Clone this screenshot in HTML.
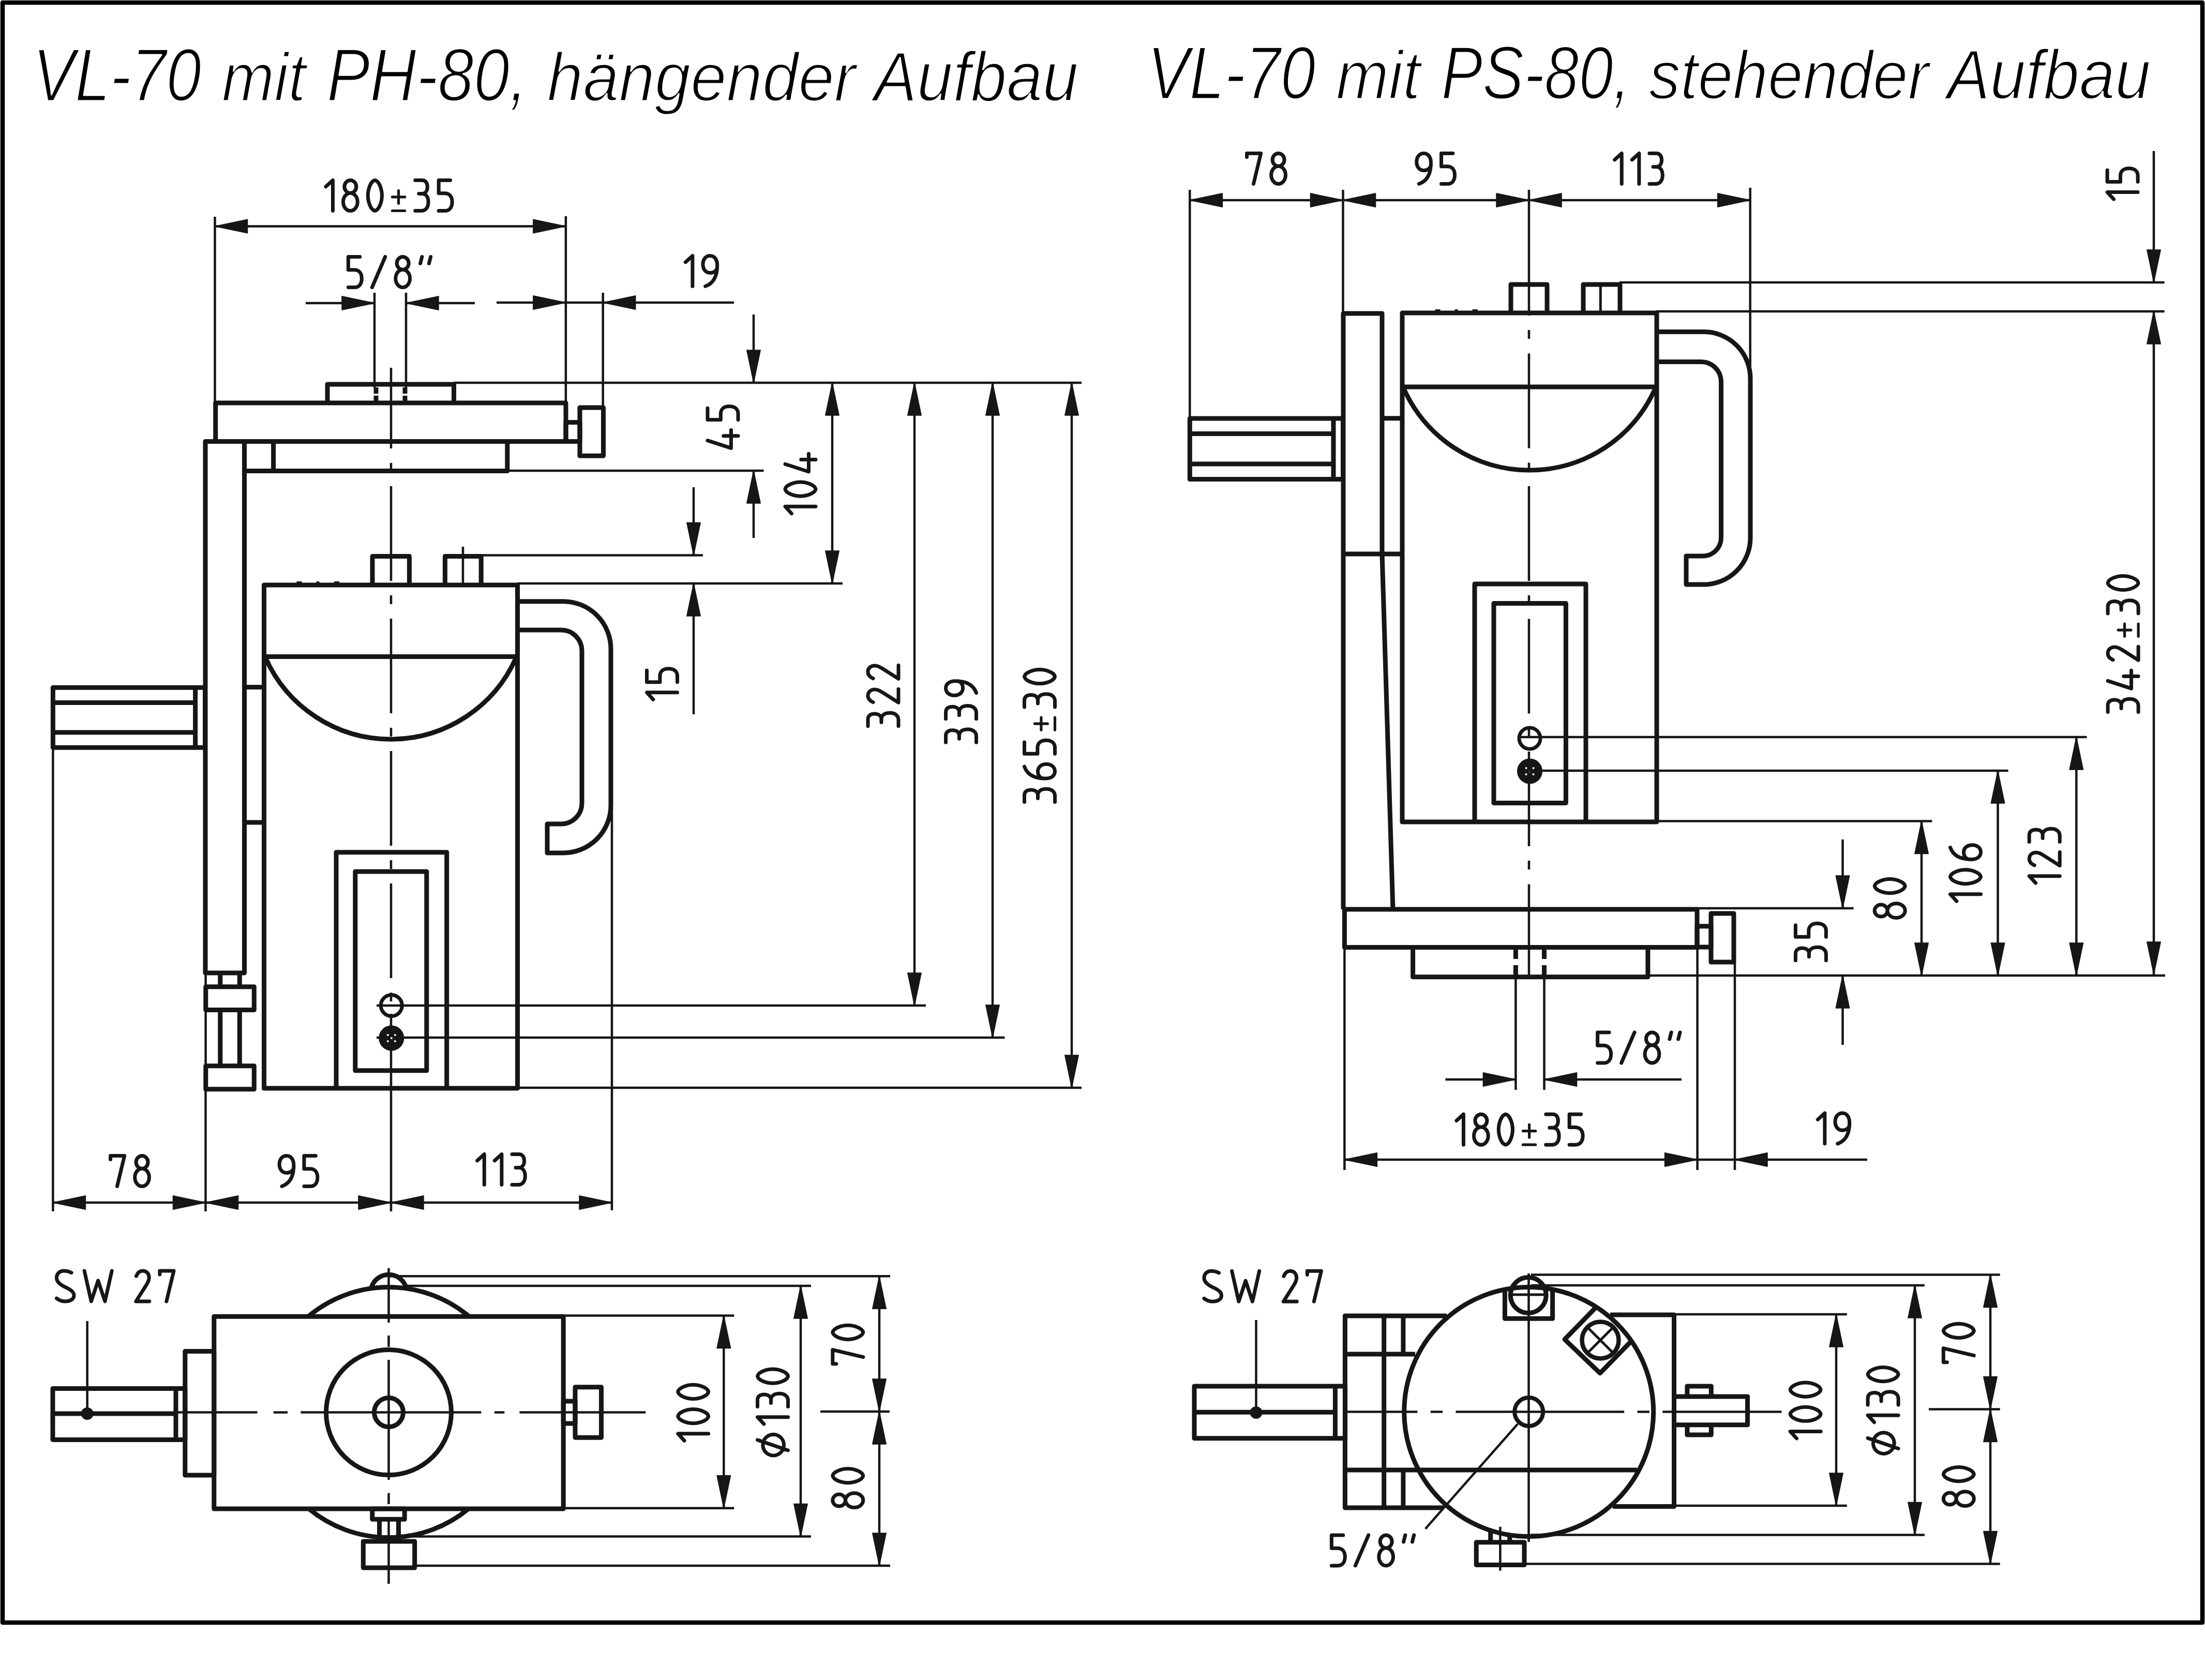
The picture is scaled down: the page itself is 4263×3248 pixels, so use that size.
<!DOCTYPE html>
<html><head><meta charset="utf-8"><title>VL-70</title>
<style>html,body{margin:0;padding:0;background:#fff;}svg{display:block;}</style></head>
<body><svg width="4263" height="3248" viewBox="0 0 4263 3248">
<rect x="0" y="0" width="4263" height="3248" fill="#fff"/>
<g fill="none" stroke="#161616" stroke-linecap="butt" stroke-linejoin="round">
<text transform="matrix(0.84784,0,0,1,63.56,195.30)" font-family="Liberation Sans" font-style="italic" font-size="143.9" fill="#000" stroke="#fff" stroke-width="3">VL-70</text>
<text transform="matrix(0.92351,0,0,1,428.68,195.30)" font-family="Liberation Sans" font-style="italic" font-size="132" fill="#000" stroke="#fff" stroke-width="3">mit</text>
<text transform="matrix(0.86570,0,0,1,631.97,195.30)" font-family="Liberation Sans" font-style="italic" font-size="143.9" fill="#000" stroke="#fff" stroke-width="3">PH-80,</text>
<text transform="matrix(0.94537,0,0,1,1057.63,195.30)" font-family="Liberation Sans" font-style="italic" font-size="132" fill="#000" stroke="#fff" stroke-width="3">hängender</text>
<text transform="matrix(0.92421,0,0,1,1689.55,195.30)" font-family="Liberation Sans" font-style="italic" font-size="135" fill="#000" stroke="#fff" stroke-width="3">Aufbau</text>
<text transform="matrix(0.84676,0,0,1,2218.17,191.10)" font-family="Liberation Sans" font-style="italic" font-size="143.9" fill="#000" stroke="#fff" stroke-width="3">VL-70</text>
<text transform="matrix(0.92687,0,0,1,2582.97,191.10)" font-family="Liberation Sans" font-style="italic" font-size="132" fill="#000" stroke="#fff" stroke-width="3">mit</text>
<text transform="matrix(0.83125,0,0,1,2786.42,191.10)" font-family="Liberation Sans" font-style="italic" font-size="143.9" fill="#000" stroke="#fff" stroke-width="3">PS-80,</text>
<text transform="matrix(0.92181,0,0,1,3188.00,191.10)" font-family="Liberation Sans" font-style="italic" font-size="132" fill="#000" stroke="#fff" stroke-width="3">stehender</text>
<text transform="matrix(0.92097,0,0,1,3764.23,191.10)" font-family="Liberation Sans" font-style="italic" font-size="135" fill="#000" stroke="#fff" stroke-width="3">Aufbau</text>
<rect x="5" y="5" width="4253" height="3132" stroke-width="8.5" stroke="#000"/>
<line x1="756" y1="711" x2="756" y2="1960" stroke-width="4.5" stroke-dasharray="183 28 17 28" stroke-dashoffset="27"/>
<line x1="756" y1="1960" x2="756" y2="2342" stroke-width="4.5"/>
<line x1="415.5" y1="419" x2="415.5" y2="779" stroke-width="4.5"/>
<line x1="1093.9" y1="418" x2="1093.9" y2="779" stroke-width="4.5"/>
<line x1="415.5" y1="437.5" x2="1093.9" y2="437.5" stroke-width="4.5"/>
<path d="M415.5,437.5 L478.5,424.3 L478.5,450.7Z" fill="#161616" stroke-width="1.5"/>
<path d="M1093.9,437.5 L1030.9,424.3 L1030.9,450.7Z" fill="#161616" stroke-width="1.5"/>
<g transform="translate(752,378) scale(5.9000) translate(-20.700,-5)" stroke-width="1.186" stroke-linecap="round" stroke-linejoin="round"><path transform="translate(0,0)" d="M0,2.1 L2.3,0 L2.3,10"/><path transform="translate(5.7,0)" d="M2.35,0 A1.95,2.1 0 1 1 2.35,4.2 A1.95,2.1 0 1 1 2.35,0 Z M2.35,4.2 A2.35,2.9 0 1 1 2.35,10 A2.35,2.9 0 1 1 2.35,4.2 Z"/><path transform="translate(13.8,0)" d="M2.3,0 C3.7,0.25 4.6,3.0 4.6,5 C4.6,7.0 3.7,9.75 2.3,10 C0.9,9.75 0,7.0 0,5 C0,3.0 0.9,0.25 2.3,0 Z"/><path transform="translate(21.8,0)" d="M2.05,3.4 L2.05,7.6 M0,5.5 L4.1,5.5 M0,10 L4.1,10" stroke-width="0.881"/><path transform="translate(29.3,0)" d="M0,0 L2.2,0 C3.5,0 4.0,1.0 4.0,2.2 C4.0,3.5 3.3,4.4 2.2,4.4 L1.2,4.4 M2.2,4.4 C3.6,4.4 4.3,5.6 4.3,7.2 C4.3,8.9 3.4,10 2.0,10 L0,10"/><path transform="translate(37,0)" d="M3.8,0 L0,0 L0,4.3 L2.0,4.3 C3.5,4.3 4.4,5.4 4.4,7.1 C4.4,8.9 3.5,10 2.0,10 L0,10"/></g>
<line x1="724" y1="566" x2="724" y2="749" stroke-width="4.5"/>
<line x1="785" y1="566" x2="785" y2="749" stroke-width="4.5"/>
<line x1="591" y1="586" x2="724" y2="586" stroke-width="4.5"/>
<path d="M724,586 L661,572.8 L661,599.2Z" fill="#161616" stroke-width="1.5"/>
<line x1="785" y1="586" x2="918" y2="586" stroke-width="4.5"/>
<path d="M785,586 L848,572.8 L848,599.2Z" fill="#161616" stroke-width="1.5"/>
<g transform="translate(753,526) scale(5.9000) translate(-13.500,-5)" stroke-width="1.186" stroke-linecap="round" stroke-linejoin="round"><path transform="translate(0,0)" d="M3.8,0 L0,0 L0,4.3 L2.0,4.3 C3.5,4.3 4.4,5.4 4.4,7.1 C4.4,8.9 3.5,10 2.0,10 L0,10"/><path transform="translate(7.8,0)" d="M4.3,0 L0,10"/><path transform="translate(15.5,0)" d="M2.35,0 A1.95,2.1 0 1 1 2.35,4.2 A1.95,2.1 0 1 1 2.35,0 Z M2.35,4.2 A2.35,2.9 0 1 1 2.35,10 A2.35,2.9 0 1 1 2.35,4.2 Z"/><path transform="translate(23.6,0)" d="M0.55,0 L0,2.2 M3.4,0 L2.85,2.2"/></g>
<line x1="960" y1="585" x2="1419" y2="585" stroke-width="4.5"/>
<path d="M1093.9,585 L1030.9,571.8 L1030.9,598.2Z" fill="#161616" stroke-width="1.5"/>
<path d="M1165.7,585 L1228.7,571.8 L1228.7,598.2Z" fill="#161616" stroke-width="1.5"/>
<line x1="1165.7" y1="566" x2="1165.7" y2="788" stroke-width="4.5"/>
<g transform="translate(1356,524) scale(5.9000) translate(-5.200,-5)" stroke-width="1.186" stroke-linecap="round" stroke-linejoin="round"><path transform="translate(0,0)" d="M0,2.1 L2.3,0 L2.3,10"/><path transform="translate(5.7,0)" d="M0.8,10 C3.1,9.2 4.7,7.2 4.7,3.1 C4.7,1.1 3.7,0 2.35,0 C1.0,0 0,1.1 0,2.8 C0,4.5 1.0,5.6 2.35,5.6 C3.5,5.6 4.4,5.0 4.7,4.0"/></g>
<path d="M633,779 L633,743 L877.5,743 L877.5,779" stroke-width="9"/>
<line x1="727" y1="749" x2="727" y2="761" stroke-width="9"/>
<line x1="727" y1="765" x2="727" y2="776" stroke-width="9"/>
<line x1="783" y1="749" x2="783" y2="761" stroke-width="9"/>
<line x1="783" y1="765" x2="783" y2="776" stroke-width="9"/>
<path d="M416.7,779 L1094,779 L1094,853.5 L416.7,853.5Z" stroke-width="9"/>
<path d="M397,853.5 L472.5,853.5 L472.5,1881 L397,1881Z" stroke-width="9"/>
<line x1="472.5" y1="853.5" x2="1094" y2="853.5" stroke-width="9"/>
<path d="M472.5,853.5 L980.8,853.5 L980.8,910.5 L472.5,910.5Z" stroke-width="9"/>
<line x1="528.6" y1="853.5" x2="528.6" y2="910.5" stroke-width="9"/>
<path d="M1094,816.4 L1121,816.4 L1121,853.5 L1094,853.5Z" stroke-width="9"/>
<path d="M1121,788 L1166.5,788 L1166.5,881.3 L1121,881.3Z" stroke-width="9"/>
<line x1="877.5" y1="740" x2="2091" y2="740" stroke-width="4.5"/>
<line x1="980.8" y1="910" x2="1476.6" y2="910" stroke-width="4.5"/>
<line x1="1000.5" y1="1128" x2="1629" y2="1128" stroke-width="4.5"/>
<line x1="930.2" y1="1073.5" x2="1359" y2="1073.5" stroke-width="4.5"/>
<line x1="728" y1="1944" x2="1790" y2="1944" stroke-width="4.5"/>
<line x1="728" y1="2006" x2="1942.5" y2="2006" stroke-width="4.5"/>
<line x1="1000.5" y1="2103" x2="2091" y2="2103" stroke-width="4.5"/>
<line x1="1457" y1="608" x2="1457" y2="740" stroke-width="4.5"/>
<path d="M1457,740 L1443.8,677 L1470.2,677Z" fill="#161616" stroke-width="1.5"/>
<line x1="1457" y1="910" x2="1457" y2="1040" stroke-width="4.5"/>
<path d="M1457,910 L1443.8,973 L1470.2,973Z" fill="#161616" stroke-width="1.5"/>
<g transform="translate(1397.5,826) rotate(-90) scale(5.9000) translate(-6.850,-5)" stroke-width="1.186" stroke-linecap="round" stroke-linejoin="round"><path transform="translate(0,0)" d="M2.5,0 L0,7.7 L5.9,7.7 M4.0,5.2 L4.0,10"/><path transform="translate(9.3,0)" d="M3.8,0 L0,0 L0,4.3 L2.0,4.3 C3.5,4.3 4.4,5.4 4.4,7.1 C4.4,8.9 3.5,10 2.0,10 L0,10"/></g>
<line x1="1609" y1="740" x2="1609" y2="1128" stroke-width="4.5"/>
<path d="M1609,740 L1595.8,803 L1622.2,803Z" fill="#161616" stroke-width="1.5"/>
<path d="M1609,1128 L1595.8,1065 L1622.2,1065Z" fill="#161616" stroke-width="1.5"/>
<g transform="translate(1547.5,935) rotate(-90) scale(5.9000) translate(-9.800,-5)" stroke-width="1.186" stroke-linecap="round" stroke-linejoin="round"><path transform="translate(0,0)" d="M0,2.1 L2.3,0 L2.3,10"/><path transform="translate(5.7,0)" d="M2.3,0 C3.7,0.25 4.6,3.0 4.6,5 C4.6,7.0 3.7,9.75 2.3,10 C0.9,9.75 0,7.0 0,5 C0,3.0 0.9,0.25 2.3,0 Z"/><path transform="translate(13.7,0)" d="M2.5,0 L0,7.7 L5.9,7.7 M4.0,5.2 L4.0,10"/></g>
<line x1="1341" y1="942" x2="1341" y2="1073.5" stroke-width="4.5"/>
<path d="M1341,1073.5 L1327.8,1010.5 L1354.2,1010.5Z" fill="#161616" stroke-width="1.5"/>
<line x1="1341" y1="1128" x2="1341" y2="1381" stroke-width="4.5"/>
<path d="M1341,1128 L1327.8,1191 L1354.2,1191Z" fill="#161616" stroke-width="1.5"/>
<g transform="translate(1280,1322.5) rotate(-90) scale(5.9000) translate(-5.050,-5)" stroke-width="1.186" stroke-linecap="round" stroke-linejoin="round"><path transform="translate(0,0)" d="M0,2.1 L2.3,0 L2.3,10"/><path transform="translate(5.7,0)" d="M3.8,0 L0,0 L0,4.3 L2.0,4.3 C3.5,4.3 4.4,5.4 4.4,7.1 C4.4,8.9 3.5,10 2.0,10 L0,10"/></g>
<line x1="1768" y1="740" x2="1768" y2="1944" stroke-width="4.5"/>
<path d="M1768,740 L1754.8,803 L1781.2,803Z" fill="#161616" stroke-width="1.5"/>
<path d="M1768,1944 L1754.8,1881 L1781.2,1881Z" fill="#161616" stroke-width="1.5"/>
<g transform="translate(1707.5,1345) rotate(-90) scale(5.9000) translate(-9.950,-5)" stroke-width="1.186" stroke-linecap="round" stroke-linejoin="round"><path transform="translate(0,0)" d="M0,0 L2.2,0 C3.5,0 4.0,1.0 4.0,2.2 C4.0,3.5 3.3,4.4 2.2,4.4 L1.2,4.4 M2.2,4.4 C3.6,4.4 4.3,5.6 4.3,7.2 C4.3,8.9 3.4,10 2.0,10 L0,10"/><path transform="translate(7.7,0)" d="M0.1,1.7 C0.6,0.5 1.3,0 2.2,0 C3.5,0 4.3,0.9 4.3,2.3 C4.3,3.2 3.9,3.9 3.3,4.8 L0,10 L4.4,10"/><path transform="translate(15.5,0)" d="M0.1,1.7 C0.6,0.5 1.3,0 2.2,0 C3.5,0 4.3,0.9 4.3,2.3 C4.3,3.2 3.9,3.9 3.3,4.8 L0,10 L4.4,10"/></g>
<line x1="1919" y1="740" x2="1919" y2="2006" stroke-width="4.5"/>
<path d="M1919,740 L1905.8,803 L1932.2,803Z" fill="#161616" stroke-width="1.5"/>
<path d="M1919,2006 L1905.8,1943 L1932.2,1943Z" fill="#161616" stroke-width="1.5"/>
<g transform="translate(1858,1376) rotate(-90) scale(5.9000) translate(-10.050,-5)" stroke-width="1.186" stroke-linecap="round" stroke-linejoin="round"><path transform="translate(0,0)" d="M0,0 L2.2,0 C3.5,0 4.0,1.0 4.0,2.2 C4.0,3.5 3.3,4.4 2.2,4.4 L1.2,4.4 M2.2,4.4 C3.6,4.4 4.3,5.6 4.3,7.2 C4.3,8.9 3.4,10 2.0,10 L0,10"/><path transform="translate(7.7,0)" d="M0,0 L2.2,0 C3.5,0 4.0,1.0 4.0,2.2 C4.0,3.5 3.3,4.4 2.2,4.4 L1.2,4.4 M2.2,4.4 C3.6,4.4 4.3,5.6 4.3,7.2 C4.3,8.9 3.4,10 2.0,10 L0,10"/><path transform="translate(15.4,0)" d="M0.8,10 C3.1,9.2 4.7,7.2 4.7,3.1 C4.7,1.1 3.7,0 2.35,0 C1.0,0 0,1.1 0,2.8 C0,4.5 1.0,5.6 2.35,5.6 C3.5,5.6 4.4,5.0 4.7,4.0"/></g>
<line x1="2072" y1="740" x2="2072" y2="2103" stroke-width="4.5"/>
<path d="M2072,740 L2058.8,803 L2085.2,803Z" fill="#161616" stroke-width="1.5"/>
<path d="M2072,2103 L2058.8,2040 L2085.2,2040Z" fill="#161616" stroke-width="1.5"/>
<g transform="translate(2010,1422.5) rotate(-90) scale(5.9000) translate(-21.700,-5)" stroke-width="1.186" stroke-linecap="round" stroke-linejoin="round"><path transform="translate(0,0)" d="M0,0 L2.2,0 C3.5,0 4.0,1.0 4.0,2.2 C4.0,3.5 3.3,4.4 2.2,4.4 L1.2,4.4 M2.2,4.4 C3.6,4.4 4.3,5.6 4.3,7.2 C4.3,8.9 3.4,10 2.0,10 L0,10"/><path transform="translate(7.7,0)" d="M3.9,0 C1.6,0.8 0,2.8 0,6.9 C0,8.9 1.0,10 2.35,10 C3.7,10 4.7,8.9 4.7,7.2 C4.7,5.5 3.7,4.4 2.35,4.4 C1.2,4.4 0.3,5.0 0,6.0"/><path transform="translate(15.8,0)" d="M3.8,0 L0,0 L0,4.3 L2.0,4.3 C3.5,4.3 4.4,5.4 4.4,7.1 C4.4,8.9 3.5,10 2.0,10 L0,10"/><path transform="translate(23.6,0)" d="M2.05,3.4 L2.05,7.6 M0,5.5 L4.1,5.5 M0,10 L4.1,10" stroke-width="0.881"/><path transform="translate(31.1,0)" d="M0,0 L2.2,0 C3.5,0 4.0,1.0 4.0,2.2 C4.0,3.5 3.3,4.4 2.2,4.4 L1.2,4.4 M2.2,4.4 C3.6,4.4 4.3,5.6 4.3,7.2 C4.3,8.9 3.4,10 2.0,10 L0,10"/><path transform="translate(38.8,0)" d="M2.3,0 C3.7,0.25 4.6,3.0 4.6,5 C4.6,7.0 3.7,9.75 2.3,10 C0.9,9.75 0,7.0 0,5 C0,3.0 0.9,0.25 2.3,0 Z"/></g>
<path d="M510.5,1131 L1000.5,1131 L1000.5,2104 L510.5,2104Z" stroke-width="9"/>
<line x1="510.5" y1="1269.5" x2="1000.5" y2="1269.5" stroke-width="9"/>
<path d="M513,1271 A265,265 0 0 0 998,1271" stroke-width="9"/>
<path d="M720,1131 L720,1075.5 L791.4,1075.5 L791.4,1131" stroke-width="9"/>
<path d="M860.4,1131 L860.4,1075.5 L930.2,1075.5 L930.2,1131" stroke-width="9"/>
<line x1="895" y1="1057" x2="895" y2="1131" stroke-width="4.5"/>
<rect x="573.5" y="1124" width="10" height="7" fill="#161616" stroke="none"/>
<rect x="611.5" y="1124" width="6" height="7" fill="#161616" stroke="none"/>
<rect x="646" y="1124" width="10" height="7" fill="#161616" stroke="none"/>
<path d="M1000.5,1162.7 L1089,1162.7 A92,92 0 0 1 1181,1254.7 L1181,1557 A92,92 0 0 1 1089,1649 L1058,1649 L1058,1593 L1085,1593 A40,40 0 0 0 1125,1553 L1125,1258 A40,40 0 0 0 1085,1218 L1000.5,1218" stroke-width="9"/>
<path d="M650,2104 L650,1647.7 L863.7,1647.7 L863.7,2104" stroke-width="9"/>
<path d="M686.8,1685 L824.8,1685 L824.8,2069.7 L686.8,2069.7Z" stroke-width="9"/>
<circle cx="756.8" cy="1944" r="20.5" stroke-width="7"/>
<circle cx="756.8" cy="2007" r="21" stroke-width="7" fill="#161616"/>
<circle cx="749.8" cy="2001" r="2" fill="#fff" stroke="none"/>
<circle cx="763.8" cy="2001" r="2" fill="#fff" stroke="none"/>
<circle cx="749.8" cy="2013" r="2" fill="#fff" stroke="none"/>
<circle cx="763.8" cy="2013" r="2" fill="#fff" stroke="none"/>
<circle cx="756.8" cy="2007" r="2" fill="#fff" stroke="none"/>
<path d="M102.4,1329.3 L396.5,1329.3 L396.5,1445.3 L102.4,1445.3Z" stroke-width="9"/>
<line x1="102.4" y1="1358.6" x2="377.6" y2="1358.6" stroke-width="9"/>
<line x1="102.4" y1="1416" x2="377.6" y2="1416" stroke-width="9"/>
<line x1="377.6" y1="1329.3" x2="377.6" y2="1445.3" stroke-width="9"/>
<line x1="472.5" y1="1328.6" x2="510.5" y2="1328.6" stroke-width="9"/>
<line x1="472.5" y1="1590" x2="510.5" y2="1590" stroke-width="9"/>
<line x1="425.8" y1="1881" x2="425.8" y2="1908" stroke-width="9"/>
<line x1="463.3" y1="1881" x2="463.3" y2="1908" stroke-width="9"/>
<path d="M397.8,1907.8 L491.3,1907.8 L491.3,1952.5 L397.8,1952.5Z" stroke-width="9"/>
<line x1="425.8" y1="1952.5" x2="425.8" y2="2061" stroke-width="9"/>
<line x1="463.3" y1="1952.5" x2="463.3" y2="2061" stroke-width="9"/>
<line x1="397.6" y1="1881" x2="397.6" y2="2061" stroke-width="4.5"/>
<path d="M397.8,2060.8 L491.3,2060.8 L491.3,2105.8 L397.8,2105.8Z" stroke-width="9"/>
<line x1="102.4" y1="1445" x2="102.4" y2="2342" stroke-width="4.5"/>
<line x1="397.5" y1="2106" x2="397.5" y2="2342" stroke-width="4.5"/>
<line x1="1183" y1="1560" x2="1183" y2="2340" stroke-width="4.5"/>
<line x1="102.4" y1="2325" x2="1183" y2="2325" stroke-width="4.5"/>
<path d="M102.4,2325 L165.4,2311.8 L165.4,2338.2Z" fill="#161616" stroke-width="1.5"/>
<path d="M397.5,2325 L334.5,2311.8 L334.5,2338.2Z" fill="#161616" stroke-width="1.5"/>
<path d="M397.5,2325 L460.5,2311.8 L460.5,2338.2Z" fill="#161616" stroke-width="1.5"/>
<path d="M756,2325 L693,2311.8 L693,2338.2Z" fill="#161616" stroke-width="1.5"/>
<path d="M756,2325 L819,2311.8 L819,2338.2Z" fill="#161616" stroke-width="1.5"/>
<path d="M1183,2325 L1120,2311.8 L1120,2338.2Z" fill="#161616" stroke-width="1.5"/>
<g transform="translate(251,2264) scale(5.9000) translate(-6.350,-5)" stroke-width="1.186" stroke-linecap="round" stroke-linejoin="round"><path transform="translate(0,0)" d="M0,1.2 L0,0 L4.6,0 L2.2,10"/><path transform="translate(8,0)" d="M2.35,0 A1.95,2.1 0 1 1 2.35,4.2 A1.95,2.1 0 1 1 2.35,0 Z M2.35,4.2 A2.35,2.9 0 1 1 2.35,10 A2.35,2.9 0 1 1 2.35,4.2 Z"/></g>
<g transform="translate(577,2264) scale(5.9000) translate(-6.250,-5)" stroke-width="1.186" stroke-linecap="round" stroke-linejoin="round"><path transform="translate(0,0)" d="M0.8,10 C3.1,9.2 4.7,7.2 4.7,3.1 C4.7,1.1 3.7,0 2.35,0 C1.0,0 0,1.1 0,2.8 C0,4.5 1.0,5.6 2.35,5.6 C3.5,5.6 4.4,5.0 4.7,4.0"/><path transform="translate(8.1,0)" d="M3.8,0 L0,0 L0,4.3 L2.0,4.3 C3.5,4.3 4.4,5.4 4.4,7.1 C4.4,8.9 3.5,10 2.0,10 L0,10"/></g>
<g transform="translate(969,2261) scale(5.9000) translate(-7.850,-5)" stroke-width="1.186" stroke-linecap="round" stroke-linejoin="round"><path transform="translate(0,0)" d="M0,2.1 L2.3,0 L2.3,10"/><path transform="translate(5.7,0)" d="M0,2.1 L2.3,0 L2.3,10"/><path transform="translate(11.4,0)" d="M0,0 L2.2,0 C3.5,0 4.0,1.0 4.0,2.2 C4.0,3.5 3.3,4.4 2.2,4.4 L1.2,4.4 M2.2,4.4 C3.6,4.4 4.3,5.6 4.3,7.2 C4.3,8.9 3.4,10 2.0,10 L0,10"/></g>
<g transform="translate(222.7,2486.5) scale(5.9000) translate(-19.200,-5)" stroke-width="1.186" stroke-linecap="round" stroke-linejoin="round"><path transform="translate(0,0)" d="M4.85,0.6 C4.0,0.15 3.2,0 2.3,0 C1.0,0 0,0.9 0,2.3 C0,3.5 0.9,4.3 2.2,5.0 L3.6,5.7 C5.0,6.4 5.7,7.1 5.7,8.0 C5.7,9.3 4.4,10 2.8,10 C1.6,10 0.8,9.6 0,9.0"/><path transform="translate(9.1,0)" d="M0,0 L2.25,10 L4.5,3.2 L6.75,10 L9.0,0"/><path transform="translate(26,0)" d="M0.1,1.7 C0.6,0.5 1.3,0 2.2,0 C3.5,0 4.3,0.9 4.3,2.3 C4.3,3.2 3.9,3.9 3.3,4.8 L0,10 L4.4,10"/><path transform="translate(33.8,0)" d="M0,1.2 L0,0 L4.6,0 L2.2,10"/></g>
<line x1="168.7" y1="2554" x2="168.7" y2="2733" stroke-width="4.5"/>
<circle cx="168.7" cy="2733" r="9" stroke-width="6" fill="#161616"/>
<path d="M102,2684.4 L357.8,2684.4 L357.8,2783.4 L102,2783.4Z" stroke-width="9"/>
<line x1="340" y1="2684.4" x2="340" y2="2783.4" stroke-width="9"/>
<line x1="102" y1="2733" x2="340" y2="2733" stroke-width="9"/>
<path d="M357.8,2612.5 L413.8,2612.5 L413.8,2852 L357.8,2852Z" stroke-width="9"/>
<path d="M413.8,2545.3 L1089.2,2545.3 L1089.2,2917 L413.8,2917Z" stroke-width="9"/>
<path d="M595.8,2545.3 A242,242 0 0 1 907.2,2545.3" stroke-width="9"/>
<path d="M597.2,2917 A242,242 0 0 0 905.8,2917" stroke-width="9"/>
<path d="M718,2489 A35,35 0 0 1 785,2489" stroke-width="9"/>
<circle cx="751.5" cy="2730.6" r="121" stroke-width="9"/>
<circle cx="751.5" cy="2730.6" r="28" stroke-width="9"/>
<line x1="751.5" y1="2451.7" x2="751.5" y2="2557" stroke-width="4.5"/>
<line x1="751.5" y1="2582" x2="751.5" y2="2604" stroke-width="4.5"/>
<line x1="751.5" y1="2629" x2="751.5" y2="2861" stroke-width="4.5"/>
<line x1="751.5" y1="2886.6" x2="751.5" y2="2908" stroke-width="4.5"/>
<line x1="751.5" y1="2933" x2="751.5" y2="3062" stroke-width="4.5"/>
<line x1="340" y1="2730.6" x2="497.5" y2="2730.6" stroke-width="4.5"/>
<line x1="528.7" y1="2730.6" x2="556" y2="2730.6" stroke-width="4.5"/>
<line x1="581.4" y1="2730.6" x2="930.4" y2="2730.6" stroke-width="4.5"/>
<line x1="955.8" y1="2730.6" x2="975.3" y2="2730.6" stroke-width="4.5"/>
<line x1="1004.5" y1="2730.6" x2="1248.3" y2="2730.6" stroke-width="4.5"/>
<path d="M1089.2,2709 L1112,2709 L1112,2752 L1089.2,2752Z" stroke-width="9"/>
<path d="M1112,2681.8 L1162.5,2681.8 L1162.5,2779.3 L1112,2779.3Z" stroke-width="9"/>
<path d="M719.8,2917 L782.2,2917 L782.2,2937.3 L719.8,2937.3Z" stroke-width="9"/>
<line x1="733.5" y1="2937.3" x2="733.5" y2="2980" stroke-width="9"/>
<line x1="770.5" y1="2937.3" x2="770.5" y2="2980" stroke-width="9"/>
<path d="M702.3,2980 L801.7,2980 L801.7,3031 L702.3,3031Z" stroke-width="9"/>
<line x1="751.5" y1="2467.3" x2="1721" y2="2467.3" stroke-width="4.5"/>
<line x1="786" y1="2486" x2="1568" y2="2486" stroke-width="4.5"/>
<line x1="1089.2" y1="2543.4" x2="1419.3" y2="2543.4" stroke-width="4.5"/>
<line x1="1089.2" y1="2915.8" x2="1419.3" y2="2915.8" stroke-width="4.5"/>
<line x1="774" y1="2970.4" x2="1568" y2="2970.4" stroke-width="4.5"/>
<line x1="801.7" y1="3027" x2="1721" y2="3027" stroke-width="4.5"/>
<line x1="1586" y1="2729" x2="1720" y2="2729" stroke-width="4.5"/>
<line x1="1399.3" y1="2543.4" x2="1399.3" y2="2915.8" stroke-width="4.5"/>
<path d="M1399.3,2543.4 L1386.1,2606.4 L1412.5,2606.4Z" fill="#161616" stroke-width="1.5"/>
<path d="M1399.3,2915.8 L1386.1,2852.8 L1412.5,2852.8Z" fill="#161616" stroke-width="1.5"/>
<g transform="translate(1340.2,2731.3) rotate(-90) scale(5.9000) translate(-9.150,-5)" stroke-width="1.186" stroke-linecap="round" stroke-linejoin="round"><path transform="translate(0,0)" d="M0,2.1 L2.3,0 L2.3,10"/><path transform="translate(5.7,0)" d="M2.3,0 C3.7,0.25 4.6,3.0 4.6,5 C4.6,7.0 3.7,9.75 2.3,10 C0.9,9.75 0,7.0 0,5 C0,3.0 0.9,0.25 2.3,0 Z"/><path transform="translate(13.7,0)" d="M2.3,0 C3.7,0.25 4.6,3.0 4.6,5 C4.6,7.0 3.7,9.75 2.3,10 C0.9,9.75 0,7.0 0,5 C0,3.0 0.9,0.25 2.3,0 Z"/></g>
<line x1="1548" y1="2486" x2="1548" y2="2970.4" stroke-width="4.5"/>
<path d="M1548,2486 L1534.8,2549 L1561.2,2549Z" fill="#161616" stroke-width="1.5"/>
<path d="M1548,2970.4 L1534.8,2907.4 L1561.2,2907.4Z" fill="#161616" stroke-width="1.5"/>
<g transform="translate(1494,2730.5) rotate(-90) scale(5.9000) translate(-14.150,-5)" stroke-width="1.186" stroke-linecap="round" stroke-linejoin="round"><path transform="translate(0,0)" d="M3.45,1.75 A3.45,3.45 0 1 1 3.44,1.75 Z M5.1,0 L1.7,10"/><path transform="translate(10.3,0)" d="M0,2.1 L2.3,0 L2.3,10"/><path transform="translate(16,0)" d="M0,0 L2.2,0 C3.5,0 4.0,1.0 4.0,2.2 C4.0,3.5 3.3,4.4 2.2,4.4 L1.2,4.4 M2.2,4.4 C3.6,4.4 4.3,5.6 4.3,7.2 C4.3,8.9 3.4,10 2.0,10 L0,10"/><path transform="translate(23.7,0)" d="M2.3,0 C3.7,0.25 4.6,3.0 4.6,5 C4.6,7.0 3.7,9.75 2.3,10 C0.9,9.75 0,7.0 0,5 C0,3.0 0.9,0.25 2.3,0 Z"/></g>
<line x1="1700" y1="2467.3" x2="1700" y2="3027" stroke-width="4.5"/>
<path d="M1700,2467.3 L1686.8,2530.3 L1713.2,2530.3Z" fill="#161616" stroke-width="1.5"/>
<path d="M1700,2729 L1686.8,2666 L1713.2,2666Z" fill="#161616" stroke-width="1.5"/>
<path d="M1700,2729 L1686.8,2792 L1713.2,2792Z" fill="#161616" stroke-width="1.5"/>
<path d="M1700,3027 L1686.8,2964 L1713.2,2964Z" fill="#161616" stroke-width="1.5"/>
<g transform="translate(1639.3,2599.5) rotate(-90) scale(5.9000) translate(-6.300,-5)" stroke-width="1.186" stroke-linecap="round" stroke-linejoin="round"><path transform="translate(0,0)" d="M0,1.2 L0,0 L4.6,0 L2.2,10"/><path transform="translate(8,0)" d="M2.3,0 C3.7,0.25 4.6,3.0 4.6,5 C4.6,7.0 3.7,9.75 2.3,10 C0.9,9.75 0,7.0 0,5 C0,3.0 0.9,0.25 2.3,0 Z"/></g>
<g transform="translate(1639.3,2877) rotate(-90) scale(5.9000) translate(-6.350,-5)" stroke-width="1.186" stroke-linecap="round" stroke-linejoin="round"><path transform="translate(0,0)" d="M2.35,0 A1.95,2.1 0 1 1 2.35,4.2 A1.95,2.1 0 1 1 2.35,0 Z M2.35,4.2 A2.35,2.9 0 1 1 2.35,10 A2.35,2.9 0 1 1 2.35,4.2 Z"/><path transform="translate(8.1,0)" d="M2.3,0 C3.7,0.25 4.6,3.0 4.6,5 C4.6,7.0 3.7,9.75 2.3,10 C0.9,9.75 0,7.0 0,5 C0,3.0 0.9,0.25 2.3,0 Z"/></g>
<line x1="2300.3" y1="367" x2="2300.3" y2="809" stroke-width="4.5"/>
<line x1="2596.5" y1="367" x2="2596.5" y2="606" stroke-width="4.5"/>
<line x1="2956" y1="367" x2="2956" y2="605" stroke-width="4.5"/>
<line x1="3383.7" y1="363" x2="3383.7" y2="723" stroke-width="4.5"/>
<line x1="2300.3" y1="387" x2="3383.7" y2="387" stroke-width="4.5"/>
<path d="M2300.3,387 L2363.3,373.8 L2363.3,400.2Z" fill="#161616" stroke-width="1.5"/>
<path d="M2596.5,387 L2533.5,373.8 L2533.5,400.2Z" fill="#161616" stroke-width="1.5"/>
<path d="M2596.5,387 L2659.5,373.8 L2659.5,400.2Z" fill="#161616" stroke-width="1.5"/>
<path d="M2956,387 L2893,373.8 L2893,400.2Z" fill="#161616" stroke-width="1.5"/>
<path d="M2956,387 L3019,373.8 L3019,400.2Z" fill="#161616" stroke-width="1.5"/>
<path d="M3383.7,387 L3320.7,373.8 L3320.7,400.2Z" fill="#161616" stroke-width="1.5"/>
<g transform="translate(2448,326) scale(5.9000) translate(-6.350,-5)" stroke-width="1.186" stroke-linecap="round" stroke-linejoin="round"><path transform="translate(0,0)" d="M0,1.2 L0,0 L4.6,0 L2.2,10"/><path transform="translate(8,0)" d="M2.35,0 A1.95,2.1 0 1 1 2.35,4.2 A1.95,2.1 0 1 1 2.35,0 Z M2.35,4.2 A2.35,2.9 0 1 1 2.35,10 A2.35,2.9 0 1 1 2.35,4.2 Z"/></g>
<g transform="translate(2775.6,326) scale(5.9000) translate(-6.250,-5)" stroke-width="1.186" stroke-linecap="round" stroke-linejoin="round"><path transform="translate(0,0)" d="M0.8,10 C3.1,9.2 4.7,7.2 4.7,3.1 C4.7,1.1 3.7,0 2.35,0 C1.0,0 0,1.1 0,2.8 C0,4.5 1.0,5.6 2.35,5.6 C3.5,5.6 4.4,5.0 4.7,4.0"/><path transform="translate(8.1,0)" d="M3.8,0 L0,0 L0,4.3 L2.0,4.3 C3.5,4.3 4.4,5.4 4.4,7.1 C4.4,8.9 3.5,10 2.0,10 L0,10"/></g>
<g transform="translate(3168,326) scale(5.9000) translate(-7.850,-5)" stroke-width="1.186" stroke-linecap="round" stroke-linejoin="round"><path transform="translate(0,0)" d="M0,2.1 L2.3,0 L2.3,10"/><path transform="translate(5.7,0)" d="M0,2.1 L2.3,0 L2.3,10"/><path transform="translate(11.4,0)" d="M0,0 L2.2,0 C3.5,0 4.0,1.0 4.0,2.2 C4.0,3.5 3.3,4.4 2.2,4.4 L1.2,4.4 M2.2,4.4 C3.6,4.4 4.3,5.6 4.3,7.2 C4.3,8.9 3.4,10 2.0,10 L0,10"/></g>
<line x1="3131" y1="546" x2="4184.6" y2="546" stroke-width="4.5"/>
<line x1="3202" y1="602" x2="4184.6" y2="602" stroke-width="4.5"/>
<line x1="4164" y1="292" x2="4164" y2="546" stroke-width="4.5"/>
<path d="M4164,546 L4150.8,483 L4177.2,483Z" fill="#161616" stroke-width="1.5"/>
<line x1="4164" y1="602" x2="4164" y2="1884" stroke-width="4.5"/>
<path d="M4164,602 L4150.8,665 L4177.2,665Z" fill="#161616" stroke-width="1.5"/>
<path d="M4164,1884 L4150.8,1821 L4177.2,1821Z" fill="#161616" stroke-width="1.5"/>
<g transform="translate(4103.6,355.3) rotate(-90) scale(5.9000) translate(-5.050,-5)" stroke-width="1.186" stroke-linecap="round" stroke-linejoin="round"><path transform="translate(0,0)" d="M0,2.1 L2.3,0 L2.3,10"/><path transform="translate(5.7,0)" d="M3.8,0 L0,0 L0,4.3 L2.0,4.3 C3.5,4.3 4.4,5.4 4.4,7.1 C4.4,8.9 3.5,10 2.0,10 L0,10"/></g>
<g transform="translate(4104.6,1245) rotate(-90) scale(5.9000) translate(-22.300,-5)" stroke-width="1.186" stroke-linecap="round" stroke-linejoin="round"><path transform="translate(0,0)" d="M0,0 L2.2,0 C3.5,0 4.0,1.0 4.0,2.2 C4.0,3.5 3.3,4.4 2.2,4.4 L1.2,4.4 M2.2,4.4 C3.6,4.4 4.3,5.6 4.3,7.2 C4.3,8.9 3.4,10 2.0,10 L0,10"/><path transform="translate(7.7,0)" d="M2.5,0 L0,7.7 L5.9,7.7 M4.0,5.2 L4.0,10"/><path transform="translate(17,0)" d="M0.1,1.7 C0.6,0.5 1.3,0 2.2,0 C3.5,0 4.3,0.9 4.3,2.3 C4.3,3.2 3.9,3.9 3.3,4.8 L0,10 L4.4,10"/><path transform="translate(24.8,0)" d="M2.05,3.4 L2.05,7.6 M0,5.5 L4.1,5.5 M0,10 L4.1,10" stroke-width="0.881"/><path transform="translate(32.3,0)" d="M0,0 L2.2,0 C3.5,0 4.0,1.0 4.0,2.2 C4.0,3.5 3.3,4.4 2.2,4.4 L1.2,4.4 M2.2,4.4 C3.6,4.4 4.3,5.6 4.3,7.2 C4.3,8.9 3.4,10 2.0,10 L0,10"/><path transform="translate(40,0)" d="M2.3,0 C3.7,0.25 4.6,3.0 4.6,5 C4.6,7.0 3.7,9.75 2.3,10 C0.9,9.75 0,7.0 0,5 C0,3.0 0.9,0.25 2.3,0 Z"/></g>
<path d="M2300.3,809 L2596.5,809 L2596.5,926.5 L2300.3,926.5Z" stroke-width="9"/>
<line x1="2300.3" y1="838.5" x2="2578" y2="838.5" stroke-width="9"/>
<line x1="2300.3" y1="897" x2="2578" y2="897" stroke-width="9"/>
<line x1="2578" y1="809" x2="2578" y2="926.5" stroke-width="9"/>
<path d="M2597,1758 L2597,606 L2672,606 L2672,1071 L2693,1758" stroke-width="9"/>
<line x1="2672" y1="808.7" x2="2711" y2="808.7" stroke-width="9"/>
<line x1="2597" y1="1071" x2="2711" y2="1071" stroke-width="9"/>
<path d="M2711,605 L3203,605 L3203,1589 L2711,1589Z" stroke-width="9"/>
<line x1="2711" y1="748" x2="3203" y2="748" stroke-width="9"/>
<path d="M2713,749 A266,266 0 0 0 3201,749" stroke-width="9"/>
<path d="M2921,605 L2921,550 L2991,550 L2991,605" stroke-width="9"/>
<path d="M3061,605 L3061,550 L3132,550 L3132,605" stroke-width="9"/>
<line x1="3094.3" y1="550" x2="3094.3" y2="605" stroke-width="5"/>
<rect x="2774.6" y="598" width="10" height="7" fill="#161616" stroke="none"/>
<rect x="2812.5" y="598" width="6" height="7" fill="#161616" stroke="none"/>
<rect x="2846.7" y="598" width="10" height="7" fill="#161616" stroke="none"/>
<line x1="2956" y1="605" x2="2956" y2="1901" stroke-width="4.5" stroke-dasharray="183 28 17 28.5" stroke-dashoffset="178"/>
<path d="M3203,641.5 L3294,641.5 A90,90 0 0 1 3384,731.5 L3384,1040 A90,90 0 0 1 3294,1130 L3260,1130 L3260,1075 L3292,1075 A35.5,35.5 0 0 0 3327.5,1039.5 L3327.5,738 A38.5,38.5 0 0 0 3289,699.5 L3203,699.5" stroke-width="9"/>
<path d="M2851,1589 L2851,1129 L3066,1129 L3066,1589" stroke-width="9"/>
<path d="M2888,1166.5 L3027.4,1166.5 L3027.4,1552.4 L2888,1552.4Z" stroke-width="9"/>
<circle cx="2957.5" cy="1427.5" r="20.5" stroke-width="7"/>
<circle cx="2957.5" cy="1491" r="21" stroke-width="7" fill="#161616"/>
<circle cx="2950.5" cy="1485" r="2" fill="#fff" stroke="none"/>
<circle cx="2964.5" cy="1485" r="2" fill="#fff" stroke="none"/>
<circle cx="2950.5" cy="1497" r="2" fill="#fff" stroke="none"/>
<circle cx="2964.5" cy="1497" r="2" fill="#fff" stroke="none"/>
<circle cx="2957.5" cy="1491" r="2" fill="#fff" stroke="none"/>
<path d="M2599.4,1758 L3281,1758 L3281,1831.6 L2599.4,1831.6Z" stroke-width="9"/>
<path d="M2731.6,1831.6 L3185.9,1831.6 L3185.9,1888.8 L2731.6,1888.8Z" stroke-width="9"/>
<line x1="2930.4" y1="1835" x2="2930.4" y2="1854" stroke-width="9"/>
<line x1="2930.4" y1="1866" x2="2930.4" y2="1885" stroke-width="9"/>
<line x1="2930.4" y1="1885" x2="2930.4" y2="2107" stroke-width="4.5"/>
<line x1="2985.5" y1="1835" x2="2985.5" y2="1854" stroke-width="9"/>
<line x1="2985.5" y1="1866" x2="2985.5" y2="1885" stroke-width="9"/>
<line x1="2985.5" y1="1885" x2="2985.5" y2="2107" stroke-width="4.5"/>
<path d="M3281,1790.8 L3308,1790.8 L3308,1831 L3281,1831Z" stroke-width="9"/>
<path d="M3308,1766 L3352,1766 L3352,1860 L3308,1860Z" stroke-width="9"/>
<line x1="2934" y1="1425" x2="4034.4" y2="1425" stroke-width="4.5"/>
<line x1="2934" y1="1490" x2="3882.6" y2="1490" stroke-width="4.5"/>
<line x1="3203" y1="1587.5" x2="3735.3" y2="1587.5" stroke-width="4.5"/>
<line x1="3281" y1="1756" x2="3583.5" y2="1756" stroke-width="4.5"/>
<line x1="3186" y1="1886" x2="4186" y2="1886" stroke-width="4.5"/>
<line x1="2599.4" y1="1832" x2="2599.4" y2="2262" stroke-width="4.5"/>
<line x1="3281.6" y1="1832" x2="3281.6" y2="2262" stroke-width="4.5"/>
<line x1="3354" y1="1860" x2="3354" y2="2262" stroke-width="4.5"/>
<line x1="3562.5" y1="1623" x2="3562.5" y2="1756" stroke-width="4.5"/>
<path d="M3562.5,1756 L3549.3,1693 L3575.7,1693Z" fill="#161616" stroke-width="1.5"/>
<line x1="3562.5" y1="1886" x2="3562.5" y2="2020" stroke-width="4.5"/>
<path d="M3562.5,1886 L3549.3,1949 L3575.7,1949Z" fill="#161616" stroke-width="1.5"/>
<g transform="translate(3500.9,1821) rotate(-90) scale(5.9000) translate(-6.050,-5)" stroke-width="1.186" stroke-linecap="round" stroke-linejoin="round"><path transform="translate(0,0)" d="M0,0 L2.2,0 C3.5,0 4.0,1.0 4.0,2.2 C4.0,3.5 3.3,4.4 2.2,4.4 L1.2,4.4 M2.2,4.4 C3.6,4.4 4.3,5.6 4.3,7.2 C4.3,8.9 3.4,10 2.0,10 L0,10"/><path transform="translate(7.7,0)" d="M3.8,0 L0,0 L0,4.3 L2.0,4.3 C3.5,4.3 4.4,5.4 4.4,7.1 C4.4,8.9 3.5,10 2.0,10 L0,10"/></g>
<line x1="3715" y1="1587.5" x2="3715" y2="1886" stroke-width="4.5"/>
<path d="M3715,1587.5 L3701.8,1650.5 L3728.2,1650.5Z" fill="#161616" stroke-width="1.5"/>
<path d="M3715,1886 L3701.8,1823 L3728.2,1823Z" fill="#161616" stroke-width="1.5"/>
<g transform="translate(3653.7,1737) rotate(-90) scale(5.9000) translate(-6.350,-5)" stroke-width="1.186" stroke-linecap="round" stroke-linejoin="round"><path transform="translate(0,0)" d="M2.35,0 A1.95,2.1 0 1 1 2.35,4.2 A1.95,2.1 0 1 1 2.35,0 Z M2.35,4.2 A2.35,2.9 0 1 1 2.35,10 A2.35,2.9 0 1 1 2.35,4.2 Z"/><path transform="translate(8.1,0)" d="M2.3,0 C3.7,0.25 4.6,3.0 4.6,5 C4.6,7.0 3.7,9.75 2.3,10 C0.9,9.75 0,7.0 0,5 C0,3.0 0.9,0.25 2.3,0 Z"/></g>
<line x1="3862.5" y1="1490" x2="3862.5" y2="1886" stroke-width="4.5"/>
<path d="M3862.5,1490 L3849.3,1553 L3875.7,1553Z" fill="#161616" stroke-width="1.5"/>
<path d="M3862.5,1886 L3849.3,1823 L3875.7,1823Z" fill="#161616" stroke-width="1.5"/>
<g transform="translate(3800,1688) rotate(-90) scale(5.9000) translate(-9.200,-5)" stroke-width="1.186" stroke-linecap="round" stroke-linejoin="round"><path transform="translate(0,0)" d="M0,2.1 L2.3,0 L2.3,10"/><path transform="translate(5.7,0)" d="M2.3,0 C3.7,0.25 4.6,3.0 4.6,5 C4.6,7.0 3.7,9.75 2.3,10 C0.9,9.75 0,7.0 0,5 C0,3.0 0.9,0.25 2.3,0 Z"/><path transform="translate(13.7,0)" d="M3.9,0 C1.6,0.8 0,2.8 0,6.9 C0,8.9 1.0,10 2.35,10 C3.7,10 4.7,8.9 4.7,7.2 C4.7,5.5 3.7,4.4 2.35,4.4 C1.2,4.4 0.3,5.0 0,6.0"/></g>
<line x1="4014.3" y1="1425" x2="4014.3" y2="1886" stroke-width="4.5"/>
<path d="M4014.3,1425 L4001.1,1488 L4027.5,1488Z" fill="#161616" stroke-width="1.5"/>
<path d="M4014.3,1886 L4001.1,1823 L4027.5,1823Z" fill="#161616" stroke-width="1.5"/>
<g transform="translate(3952.7,1654.7) rotate(-90) scale(5.9000) translate(-8.900,-5)" stroke-width="1.186" stroke-linecap="round" stroke-linejoin="round"><path transform="translate(0,0)" d="M0,2.1 L2.3,0 L2.3,10"/><path transform="translate(5.7,0)" d="M0.1,1.7 C0.6,0.5 1.3,0 2.2,0 C3.5,0 4.3,0.9 4.3,2.3 C4.3,3.2 3.9,3.9 3.3,4.8 L0,10 L4.4,10"/><path transform="translate(13.5,0)" d="M0,0 L2.2,0 C3.5,0 4.0,1.0 4.0,2.2 C4.0,3.5 3.3,4.4 2.2,4.4 L1.2,4.4 M2.2,4.4 C3.6,4.4 4.3,5.6 4.3,7.2 C4.3,8.9 3.4,10 2.0,10 L0,10"/></g>
<line x1="2794.4" y1="2087" x2="2930.4" y2="2087" stroke-width="4.5"/>
<path d="M2930.4,2087 L2867.4,2073.8 L2867.4,2100.2Z" fill="#161616" stroke-width="1.5"/>
<line x1="2985.5" y1="2087" x2="3251" y2="2087" stroke-width="4.5"/>
<path d="M2985.5,2087 L3048.5,2073.8 L3048.5,2100.2Z" fill="#161616" stroke-width="1.5"/>
<g transform="translate(3168.3,2025.5) scale(5.9000) translate(-13.500,-5)" stroke-width="1.186" stroke-linecap="round" stroke-linejoin="round"><path transform="translate(0,0)" d="M3.8,0 L0,0 L0,4.3 L2.0,4.3 C3.5,4.3 4.4,5.4 4.4,7.1 C4.4,8.9 3.5,10 2.0,10 L0,10"/><path transform="translate(7.8,0)" d="M4.3,0 L0,10"/><path transform="translate(15.5,0)" d="M2.35,0 A1.95,2.1 0 1 1 2.35,4.2 A1.95,2.1 0 1 1 2.35,0 Z M2.35,4.2 A2.35,2.9 0 1 1 2.35,10 A2.35,2.9 0 1 1 2.35,4.2 Z"/><path transform="translate(23.6,0)" d="M0.55,0 L0,2.2 M3.4,0 L2.85,2.2"/></g>
<line x1="2599.4" y1="2242" x2="3610" y2="2242" stroke-width="4.5"/>
<path d="M2599.4,2242 L2662.4,2228.8 L2662.4,2255.2Z" fill="#161616" stroke-width="1.5"/>
<path d="M3281.6,2242 L3218.6,2228.8 L3218.6,2255.2Z" fill="#161616" stroke-width="1.5"/>
<path d="M3354,2242 L3417,2228.8 L3417,2255.2Z" fill="#161616" stroke-width="1.5"/>
<g transform="translate(2938,2183.7) scale(5.9000) translate(-20.700,-5)" stroke-width="1.186" stroke-linecap="round" stroke-linejoin="round"><path transform="translate(0,0)" d="M0,2.1 L2.3,0 L2.3,10"/><path transform="translate(5.7,0)" d="M2.35,0 A1.95,2.1 0 1 1 2.35,4.2 A1.95,2.1 0 1 1 2.35,0 Z M2.35,4.2 A2.35,2.9 0 1 1 2.35,10 A2.35,2.9 0 1 1 2.35,4.2 Z"/><path transform="translate(13.8,0)" d="M2.3,0 C3.7,0.25 4.6,3.0 4.6,5 C4.6,7.0 3.7,9.75 2.3,10 C0.9,9.75 0,7.0 0,5 C0,3.0 0.9,0.25 2.3,0 Z"/><path transform="translate(21.8,0)" d="M2.05,3.4 L2.05,7.6 M0,5.5 L4.1,5.5 M0,10 L4.1,10" stroke-width="0.881"/><path transform="translate(29.3,0)" d="M0,0 L2.2,0 C3.5,0 4.0,1.0 4.0,2.2 C4.0,3.5 3.3,4.4 2.2,4.4 L1.2,4.4 M2.2,4.4 C3.6,4.4 4.3,5.6 4.3,7.2 C4.3,8.9 3.4,10 2.0,10 L0,10"/><path transform="translate(37,0)" d="M3.8,0 L0,0 L0,4.3 L2.0,4.3 C3.5,4.3 4.4,5.4 4.4,7.1 C4.4,8.9 3.5,10 2.0,10 L0,10"/></g>
<g transform="translate(3545,2181.6) scale(5.9000) translate(-5.200,-5)" stroke-width="1.186" stroke-linecap="round" stroke-linejoin="round"><path transform="translate(0,0)" d="M0,2.1 L2.3,0 L2.3,10"/><path transform="translate(5.7,0)" d="M0.8,10 C3.1,9.2 4.7,7.2 4.7,3.1 C4.7,1.1 3.7,0 2.35,0 C1.0,0 0,1.1 0,2.8 C0,4.5 1.0,5.6 2.35,5.6 C3.5,5.6 4.4,5.0 4.7,4.0"/></g>
<g transform="translate(2441.2,2486.8) scale(5.9000) translate(-19.200,-5)" stroke-width="1.186" stroke-linecap="round" stroke-linejoin="round"><path transform="translate(0,0)" d="M4.85,0.6 C4.0,0.15 3.2,0 2.3,0 C1.0,0 0,0.9 0,2.3 C0,3.5 0.9,4.3 2.2,5.0 L3.6,5.7 C5.0,6.4 5.7,7.1 5.7,8.0 C5.7,9.3 4.4,10 2.8,10 C1.6,10 0.8,9.6 0,9.0"/><path transform="translate(9.1,0)" d="M0,0 L2.25,10 L4.5,3.2 L6.75,10 L9.0,0"/><path transform="translate(26,0)" d="M0.1,1.7 C0.6,0.5 1.3,0 2.2,0 C3.5,0 4.3,0.9 4.3,2.3 C4.3,3.2 3.9,3.9 3.3,4.8 L0,10 L4.4,10"/><path transform="translate(33.8,0)" d="M0,1.2 L0,0 L4.6,0 L2.2,10"/></g>
<line x1="2428.5" y1="2552" x2="2428.5" y2="2731" stroke-width="4.5"/>
<circle cx="2428.5" cy="2731" r="9" stroke-width="6" fill="#161616"/>
<path d="M2309,2680 L2600.6,2680 L2600.6,2780.7 L2309,2780.7Z" stroke-width="9"/>
<line x1="2309" y1="2730.3" x2="2581.4" y2="2730.3" stroke-width="9"/>
<line x1="2581.4" y1="2680" x2="2581.4" y2="2780.7" stroke-width="9"/>
<path d="M2797,2544 L2600.4,2544 L2600.4,2915 L2791,2915" stroke-width="9"/>
<line x1="2675.7" y1="2544" x2="2675.7" y2="2915" stroke-width="9"/>
<line x1="2712.9" y1="2544" x2="2712.9" y2="2618" stroke-width="9"/>
<line x1="2712.9" y1="2842" x2="2712.9" y2="2915" stroke-width="9"/>
<line x1="2600.4" y1="2618" x2="2736" y2="2618" stroke-width="9"/>
<line x1="2600.4" y1="2842" x2="3165" y2="2842" stroke-width="9"/>
<path d="M3113,2542 L3236.5,2542 L3236.5,2912.5 L3118,2912.5" stroke-width="9"/>
<circle cx="2955.7" cy="2729.5" r="241" stroke-width="9"/>
<circle cx="2955.7" cy="2729.5" r="27.5" stroke-width="8"/>
<path d="M2909.4,2492 L2909.4,2549.2 L3001.6,2549.2 L3001.6,2492" stroke-width="9"/>
<circle cx="2954.7" cy="2504" r="34.5" stroke-width="9"/>
<line x1="2921" y1="2503" x2="2988" y2="2503" stroke-width="5"/>
<path d="M3152.9,2593.8 L3093.4,2654.8 L3025,2589.5 L3086,2527" stroke-width="9"/>
<circle cx="3094" cy="2591" r="35.5" stroke-width="8.5"/>
<line x1="3069" y1="2566" x2="3119" y2="2616" stroke-width="5"/>
<line x1="3119" y1="2566" x2="3069" y2="2616" stroke-width="5"/>
<line x1="2955.5" y1="2462" x2="2955.5" y2="2981" stroke-width="4.5"/>
<line x1="2600.4" y1="2729.5" x2="2740.4" y2="2729.5" stroke-width="4.5"/>
<line x1="2765.8" y1="2729.5" x2="2789.2" y2="2729.5" stroke-width="4.5"/>
<line x1="2814.5" y1="2729.5" x2="3140.2" y2="2729.5" stroke-width="4.5"/>
<line x1="3165.5" y1="2729.5" x2="3189" y2="2729.5" stroke-width="4.5"/>
<line x1="3214.3" y1="2729.5" x2="3444.4" y2="2729.5" stroke-width="4.5"/>
<line x1="2934.3" y1="2752.9" x2="2755.7" y2="2955.7" stroke-width="4.5"/>
<g transform="translate(2654,2997.4) scale(5.9000) translate(-13.500,-5)" stroke-width="1.186" stroke-linecap="round" stroke-linejoin="round"><path transform="translate(0,0)" d="M3.8,0 L0,0 L0,4.3 L2.0,4.3 C3.5,4.3 4.4,5.4 4.4,7.1 C4.4,8.9 3.5,10 2.0,10 L0,10"/><path transform="translate(7.8,0)" d="M4.3,0 L0,10"/><path transform="translate(15.5,0)" d="M2.35,0 A1.95,2.1 0 1 1 2.35,4.2 A1.95,2.1 0 1 1 2.35,0 Z M2.35,4.2 A2.35,2.9 0 1 1 2.35,10 A2.35,2.9 0 1 1 2.35,4.2 Z"/><path transform="translate(23.6,0)" d="M0.55,0 L0,2.2 M3.4,0 L2.85,2.2"/></g>
<path d="M2881.7,2961 L2881.7,2982 M2918.8,2968 L2918.8,2982" stroke-width="9"/>
<path d="M2854.2,2981.7 L2947,2981.7 L2947,3025.4 L2854.2,3025.4Z" stroke-width="9"/>
<line x1="2900.4" y1="2951.7" x2="2900.4" y2="3036.7" stroke-width="4.5"/>
<path d="M3236.5,2700 L3378.5,2700 L3378.5,2754.8 L3236.5,2754.8Z" stroke-width="9"/>
<path d="M3261.9,2700 L3261.9,2680 L3308.3,2680 L3308.3,2700" stroke-width="9"/>
<path d="M3261.9,2754.8 L3261.9,2774 L3308.3,2774 L3308.3,2754.8" stroke-width="9"/>
<line x1="2960" y1="2464.5" x2="3866.7" y2="2464.5" stroke-width="4.5"/>
<line x1="2960" y1="2485" x2="3720.8" y2="2485" stroke-width="4.5"/>
<line x1="3236.5" y1="2541" x2="3570.8" y2="2541" stroke-width="4.5"/>
<line x1="3236.5" y1="2911" x2="3570.8" y2="2911" stroke-width="4.5"/>
<line x1="2960" y1="2967.5" x2="3720.8" y2="2967.5" stroke-width="4.5"/>
<line x1="2946.3" y1="3023.5" x2="3866.7" y2="3023.5" stroke-width="4.5"/>
<line x1="3729" y1="2724.5" x2="3866.7" y2="2724.5" stroke-width="4.5"/>
<line x1="3550" y1="2541" x2="3550" y2="2911" stroke-width="4.5"/>
<path d="M3550,2541 L3536.8,2604 L3563.2,2604Z" fill="#161616" stroke-width="1.5"/>
<path d="M3550,2911 L3536.8,2848 L3563.2,2848Z" fill="#161616" stroke-width="1.5"/>
<g transform="translate(3490.6,2727) rotate(-90) scale(5.9000) translate(-9.150,-5)" stroke-width="1.186" stroke-linecap="round" stroke-linejoin="round"><path transform="translate(0,0)" d="M0,2.1 L2.3,0 L2.3,10"/><path transform="translate(5.7,0)" d="M2.3,0 C3.7,0.25 4.6,3.0 4.6,5 C4.6,7.0 3.7,9.75 2.3,10 C0.9,9.75 0,7.0 0,5 C0,3.0 0.9,0.25 2.3,0 Z"/><path transform="translate(13.7,0)" d="M2.3,0 C3.7,0.25 4.6,3.0 4.6,5 C4.6,7.0 3.7,9.75 2.3,10 C0.9,9.75 0,7.0 0,5 C0,3.0 0.9,0.25 2.3,0 Z"/></g>
<line x1="3702" y1="2485" x2="3702" y2="2967.5" stroke-width="4.5"/>
<path d="M3702,2485 L3688.8,2548 L3715.2,2548Z" fill="#161616" stroke-width="1.5"/>
<path d="M3702,2967.5 L3688.8,2904.5 L3715.2,2904.5Z" fill="#161616" stroke-width="1.5"/>
<g transform="translate(3640.6,2727) rotate(-90) scale(5.9000) translate(-14.150,-5)" stroke-width="1.186" stroke-linecap="round" stroke-linejoin="round"><path transform="translate(0,0)" d="M3.45,1.75 A3.45,3.45 0 1 1 3.44,1.75 Z M5.1,0 L1.7,10"/><path transform="translate(10.3,0)" d="M0,2.1 L2.3,0 L2.3,10"/><path transform="translate(16,0)" d="M0,0 L2.2,0 C3.5,0 4.0,1.0 4.0,2.2 C4.0,3.5 3.3,4.4 2.2,4.4 L1.2,4.4 M2.2,4.4 C3.6,4.4 4.3,5.6 4.3,7.2 C4.3,8.9 3.4,10 2.0,10 L0,10"/><path transform="translate(23.7,0)" d="M2.3,0 C3.7,0.25 4.6,3.0 4.6,5 C4.6,7.0 3.7,9.75 2.3,10 C0.9,9.75 0,7.0 0,5 C0,3.0 0.9,0.25 2.3,0 Z"/></g>
<line x1="3848" y1="2464.5" x2="3848" y2="3023.5" stroke-width="4.5"/>
<path d="M3848,2464.5 L3834.8,2527.5 L3861.2,2527.5Z" fill="#161616" stroke-width="1.5"/>
<path d="M3848,2724.5 L3834.8,2661.5 L3861.2,2661.5Z" fill="#161616" stroke-width="1.5"/>
<path d="M3848,2724.5 L3834.8,2787.5 L3861.2,2787.5Z" fill="#161616" stroke-width="1.5"/>
<path d="M3848,3023.5 L3834.8,2960.5 L3861.2,2960.5Z" fill="#161616" stroke-width="1.5"/>
<g transform="translate(3786.8,2596.5) rotate(-90) scale(5.9000) translate(-6.300,-5)" stroke-width="1.186" stroke-linecap="round" stroke-linejoin="round"><path transform="translate(0,0)" d="M0,1.2 L0,0 L4.6,0 L2.2,10"/><path transform="translate(8,0)" d="M2.3,0 C3.7,0.25 4.6,3.0 4.6,5 C4.6,7.0 3.7,9.75 2.3,10 C0.9,9.75 0,7.0 0,5 C0,3.0 0.9,0.25 2.3,0 Z"/></g>
<g transform="translate(3786.8,2874) rotate(-90) scale(5.9000) translate(-6.350,-5)" stroke-width="1.186" stroke-linecap="round" stroke-linejoin="round"><path transform="translate(0,0)" d="M2.35,0 A1.95,2.1 0 1 1 2.35,4.2 A1.95,2.1 0 1 1 2.35,0 Z M2.35,4.2 A2.35,2.9 0 1 1 2.35,10 A2.35,2.9 0 1 1 2.35,4.2 Z"/><path transform="translate(8.1,0)" d="M2.3,0 C3.7,0.25 4.6,3.0 4.6,5 C4.6,7.0 3.7,9.75 2.3,10 C0.9,9.75 0,7.0 0,5 C0,3.0 0.9,0.25 2.3,0 Z"/></g>
</g></svg></body></html>
